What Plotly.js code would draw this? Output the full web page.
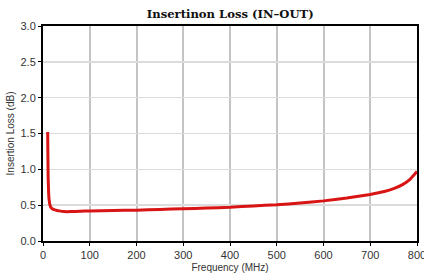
<!DOCTYPE html>
<html><head><meta charset="utf-8">
<script src="https://cdn.plot.ly/plotly-3.0.1.min.js"></script>
<style>html,body{margin:0;padding:0;background:#fff;overflow:hidden}#c{width:424px;height:276px}</style>
</head><body><div id="c"></div>
<script>
var freqMHz = [10, 10.5, 11, 12, 13, 15, 18, 22, 28, 35, 45, 60, 80, 100, 150, 200, 250, 300, 350, 400, 450, 500, 550, 600, 650, 700, 730, 750, 770, 785, 800];
var lossDB  = [1.52, 1.2, 0.9, 0.68, 0.58, 0.5, 0.46, 0.44, 0.43, 0.42, 0.41, 0.41, 0.415, 0.42, 0.425, 0.43, 0.44, 0.45, 0.46, 0.47, 0.49, 0.505, 0.53, 0.56, 0.6, 0.65, 0.69, 0.73, 0.79, 0.86, 0.97];
var xTicks = [0, 100, 200, 300, 400, 500, 600, 700, 800];
var yTicks = [0, 0.5, 1.0, 1.5, 2.0, 2.5, 3.0];

Plotly.newPlot('c', [{
  x: freqMHz, y: lossDB, type: 'scatter', mode: 'lines',
  line: {color: '#d91414', width: 3, shape: 'spline', smoothing: 0.4},
  hoverinfo: 'skip'
}], {
  width: 424, height: 276,
  margin: {l: 43, r: 7, t: 26, b: 35},
  paper_bgcolor: '#fff', plot_bgcolor: '#fff',
  showlegend: false,
  title: {text: '<b>Insertinon Loss (IN\u2013OUT)</b>', x: 0.543, xanchor: 'center', y: 0.95, yanchor: 'middle',
          font: {family: 'DejaVu Serif, serif', size: 11.6, color: '#111'}},
  xaxis: {range: [0, 800], tickvals: xTicks, ticktext: xTicks.map(String), ticklabeloverflow: 'allow',
          showgrid: true, gridcolor: '#c4c4c4', gridwidth: 2,
          showline: true, linecolor: '#000', linewidth: 2, mirror: true,
          ticks: 'outside', ticklen: 3, tickcolor: '#000', zeroline: false,
          tickfont: {family: 'Liberation Sans, Arial, sans-serif', size: 11, color: '#333'},
          title: {text: 'Frequency (MHz)', standoff: 4, font: {family: 'Liberation Sans, Arial, sans-serif', size: 10, color: '#333'}}},
  yaxis: {range: [0, 3], tickvals: yTicks, tickformat: '.1f',
          showgrid: true, gridcolor: '#dcdcdc', gridwidth: 1.5,
          showline: true, linecolor: '#000', linewidth: 2, mirror: true,
          ticks: 'outside', ticklen: 3, tickcolor: '#000', zeroline: false,
          tickfont: {family: 'Liberation Sans, Arial, sans-serif', size: 11, color: '#333'},
          title: {text: 'Insertion Loss (dB)', standoff: 4, font: {family: 'Liberation Sans, Arial, sans-serif', size: 10, color: '#333'}}}
}, {staticPlot: true, displayModeBar: false});
</script></body></html>
